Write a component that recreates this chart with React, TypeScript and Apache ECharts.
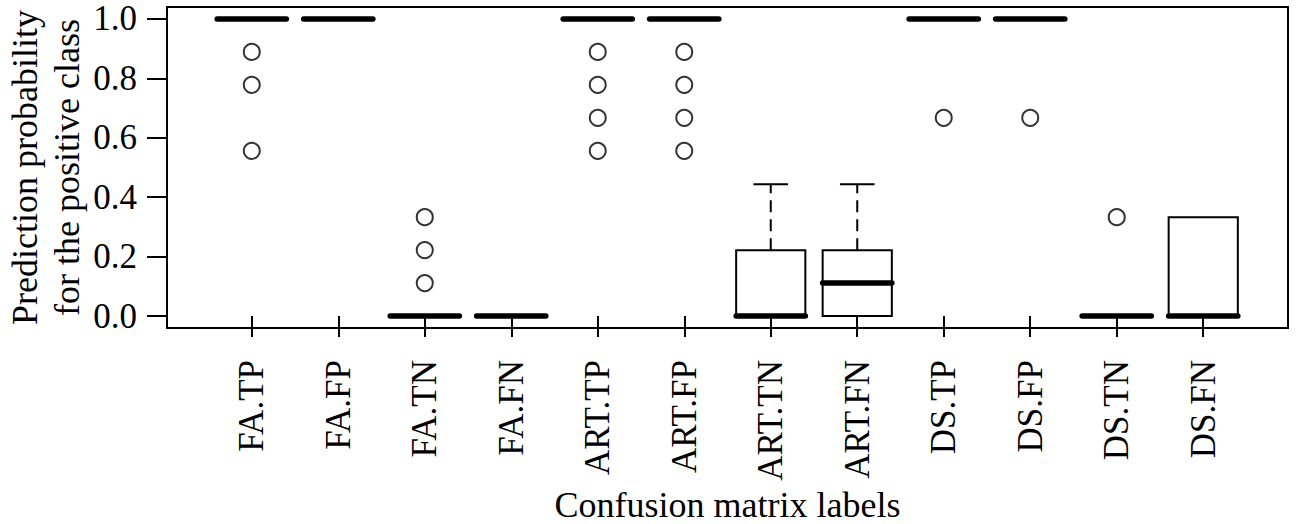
import React, { useEffect, useRef } from "react";
import * as echarts from "echarts";

// Confusion-matrix groups shown along the x axis
const categories = [
  "FA.TP", "FA.FP", "FA.TN", "FA.FN",
  "ART.TP", "ART.FP", "ART.TN", "ART.FN",
  "DS.TP", "DS.FP", "DS.TN", "DS.FN",
];

// Five-number summaries per group: [lower whisker, Q1, median, Q3, upper whisker]
const lowerWhisker = [1, 1, 0, 0, 1, 1, 0, 0, 1, 1, 0, 0];
const firstQuartile = [1, 1, 0, 0, 1, 1, 0, 0, 1, 1, 0, 0];
const medians = [1, 1, 0, 0, 1, 1, 0, 0.111, 1, 1, 0, 0];
const thirdQuartile = [1, 1, 0, 0, 1, 1, 0.222, 0.222, 1, 1, 0, 0.333];
const upperWhisker = [1, 1, 0, 0, 1, 1, 0.444, 0.444, 1, 1, 0, 0.333];

// Outlying observations: group index (1-based) and value
const outlierGroup = [1, 1, 1, 3, 3, 3, 5, 5, 5, 5, 6, 6, 6, 6, 9, 10, 11];
const outlierValue = [
  0.889, 0.778, 0.556,
  0.333, 0.222, 0.111,
  0.889, 0.778, 0.667, 0.556,
  0.889, 0.778, 0.667, 0.556,
  0.667, 0.667, 0.333,
];

const yTicks = [0, 0.2, 0.4, 0.6, 0.8, 1.0];

const FONT = "Liberation Serif";

export default function App() {
  const ref = useRef<HTMLDivElement>(null);

  useEffect(() => {
    if (!ref.current) return;
    const chart = echarts.init(ref.current, null, { renderer: "svg" });

    const boxData = categories.map((_, i) => [
      i + 1,
      lowerWhisker[i],
      firstQuartile[i],
      medians[i],
      thirdQuartile[i],
      upperWhisker[i],
    ]);
    const outlierData = outlierGroup.map((g, i) => [g, outlierValue[i]]);
    const positions = categories.map((_, i) => i + 1);

    chart.setOption({
      animation: false,
      backgroundColor: "#ffffff",
      grid: {
        left: 167,
        right: 10,
        top: 7,
        bottom: 196,
        containLabel: false,
        outerBoundsMode: "none",
        show: true,
        borderColor: "#000",
        borderWidth: 2,
        backgroundColor: "transparent",
      },
      xAxis: {
        type: "value",
        min: 0.02,
        max: 12.98,
        name: "Confusion matrix labels",
        nameLocation: "middle",
        nameMoveOverlap: false,
        nameGap: 159,
        nameTextStyle: {
          fontFamily: FONT,
          fontSize: 36,
          lineHeight: 36,
          color: "#000",
        },
        axisLine: { show: false },
        splitLine: { show: false },
        axisTick: {
          show: true,
          inside: false,
          length: 21,
          lineStyle: { color: "#000", width: 2 },
          customValues: positions,
        },
        axisLabel: {
          show: true,
          rotate: 90,
          margin: 32,
          fontFamily: FONT,
          fontSize: 35,
          color: "#000",
          customValues: positions,
          formatter: (v: number) => categories[Math.round(v) - 1] ?? "",
        },
      },
      yAxis: {
        type: "value",
        min: -0.04,
        max: 1.04,
        name: "Prediction probability\nfor the positive class",
        nameLocation: "middle",
        nameMoveOverlap: false,
        nameRotate: 90,
        nameGap: 79,
        nameTextStyle: {
          fontFamily: FONT,
          fontSize: 36,
          lineHeight: 42,
          color: "#000",
          align: "center",
        },
        axisLine: { show: false },
        splitLine: { show: false },
        axisTick: {
          show: true,
          inside: false,
          length: 20,
          lineStyle: { color: "#000", width: 2 },
          customValues: yTicks,
        },
        axisLabel: {
          show: true,
          margin: 30,
          fontFamily: FONT,
          fontSize: 35,
          color: "#000",
          customValues: yTicks,
          formatter: (v: number) => v.toFixed(1),
        },
      },
      series: [
        {
          type: "custom",
          data: boxData,
          encode: { x: 0, y: [1, 2, 3, 4, 5] },
          renderItem: (params: any, api: any) => {
            const x = api.value(0);
            const lo = api.value(1);
            const q1 = api.value(2);
            const md = api.value(3);
            const q3 = api.value(4);
            const hi = api.value(5);
            const unit = api.size([1, 0])[0];
            const half = unit * 0.4;
            const cap = half * 0.5;
            const cx = api.coord([x, md])[0];
            const yLo = api.coord([x, lo])[1];
            const yQ1 = api.coord([x, q1])[1];
            const yMd = api.coord([x, md])[1];
            const yQ3 = api.coord([x, q3])[1];
            const yHi = api.coord([x, hi])[1];
            const children: any[] = [];
            const dashStyle = { stroke: "#000", lineWidth: 2, lineDash: [12, 7] };
            const solid = { stroke: "#000", lineWidth: 2 };
            if (hi > q3) {
              children.push({
                type: "line",
                shape: { x1: cx, y1: yQ3, x2: cx, y2: yHi },
                style: dashStyle,
              });
              children.push({
                type: "line",
                shape: { x1: cx - cap, y1: yHi, x2: cx + cap, y2: yHi },
                style: solid,
              });
            }
            if (lo < q1) {
              children.push({
                type: "line",
                shape: { x1: cx, y1: yQ1, x2: cx, y2: yLo },
                style: dashStyle,
              });
              children.push({
                type: "line",
                shape: { x1: cx - cap, y1: yLo, x2: cx + cap, y2: yLo },
                style: solid,
              });
            }
            if (q3 > q1) {
              children.push({
                type: "rect",
                shape: { x: cx - half, y: yQ3, width: half * 2, height: yQ1 - yQ3 },
                style: { fill: "#fff", stroke: "#000", lineWidth: 2 },
              });
            }
            children.push({
              type: "line",
              shape: { x1: cx - half, y1: yMd, x2: cx + half, y2: yMd },
              style: { stroke: "#000", lineWidth: 5.5, lineCap: "round" },
            });
            return { type: "group", children };
          },
        },
        {
          type: "scatter",
          data: outlierData,
          symbol: "circle",
          symbolSize: 16,
          itemStyle: {
            color: "rgba(0,0,0,0)",
            borderColor: "#000",
            borderWidth: 2,
          },
        },
      ],
    });

    return () => chart.dispose();
  }, []);

  return (
    <div
      ref={ref}
      style={{ position: "fixed", left: 0, top: 0, width: 1298, height: 524 }}
    />
  );
}
